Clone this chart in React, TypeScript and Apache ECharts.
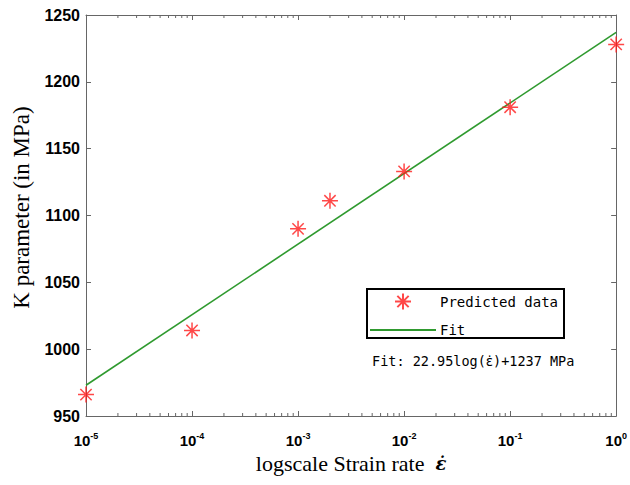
import React, { useEffect, useRef } from "react";
import * as echarts from "echarts";

// ---- data ----
const strainRates = [1e-5, 1e-4, 1e-3, 2e-3, 1e-2, 1e-1, 1];
const kValues = [966, 1014, 1090, 1111, 1133, 1181, 1228];
const fitRates = [1e-5, 1];
const fitK = [973, 1237];
const yMin = 950;
const yMax = 1250;
const yStep = 50;
const xMin = 1e-5;
const xMax = 1;
const decades = [1e-5, 1e-4, 1e-3, 1e-2, 1e-1];
const minorMultipliers = [2, 3, 4, 5, 6, 7, 8, 9];
const seriesNames = ["Predicted data", "Fit"];
const annotationPre = "Fit: 22.95log(";
const annotationEps = "\u03B5\u0307";
const annotationPost = ")+1237 MPa";
const xTitle = "logscale Strain rate  ";
const epsDot = "\u03B5\u0307";
const yTitle = "K parameter (in MPa)";

const STAR = "path://M0,-10L0,10M-10,0L10,0M-7.07,-7.07L7.07,7.07M-7.07,7.07L7.07,-7.07";
const RED = "#ff1a1a";
const GREEN = "#2f9a2f";
const AXIS = "#666666";

export default function App() {
  const ref = useRef<HTMLDivElement>(null);
  useEffect(() => {
    if (!ref.current) return;
    const chart = echarts.init(ref.current, undefined, { renderer: "svg" });
    const minorTicks: number[][] = [];
    decades.forEach((d) => minorMultipliers.forEach((m) => minorTicks.push([d * m, yMin])));

    const tickLabelFont = { fontFamily: "Liberation Sans, Arial", fontWeight: "bold" as const, color: "#000" };
    const tick = { show: true, inside: true, length: 5, lineStyle: { color: AXIS, width: 1 } };

    chart.setOption({
      animation: false,
      backgroundColor: "#fff",
      grid: { left: 86, top: 15, width: 532, height: 401 },
      xAxis: [
        {
          type: "log",
          logBase: 10,
          min: xMin,
          max: xMax,
          splitNumber: 5,
          position: "bottom",
          name: `${xTitle}{e|${epsDot}}`,
          nameLocation: "middle",
          nameGap: 31,
          nameTextStyle: {
            fontFamily: "Liberation Serif, Times New Roman",
            fontSize: 22,
            color: "#000",
            rich: {
              e: { fontFamily: "DejaVu Serif", fontStyle: "italic", fontWeight: "bold", fontSize: 18, color: "#000" },
            },
          },
          axisLine: { lineStyle: { color: AXIS, width: 1 } },
          axisTick: tick,
          splitLine: { show: false },
          axisLabel: {
            margin: 15,
            formatter: (v: number) => `{b|10}{s|${Math.round(Math.log10(v))}}`,
            rich: {
              b: { ...tickLabelFont, fontSize: 15 },
              s: { ...tickLabelFont, fontSize: 9, padding: [0, 0, 10, 0] },
            },
          },
        },
        {
          type: "log",
          logBase: 10,
          min: xMin,
          max: xMax,
          splitNumber: 5,
          position: "top",
          axisLine: { lineStyle: { color: AXIS, width: 1 } },
          axisTick: tick,
          axisLabel: { show: false },
          splitLine: { show: false },
        },
      ],
      yAxis: [
        {
          type: "value",
          min: yMin,
          max: yMax,
          interval: yStep,
          position: "left",
          name: yTitle,
          nameLocation: "middle",
          nameGap: 53,
          nameTextStyle: {
            fontFamily: "Liberation Serif, Times New Roman",
            fontSize: 23,
            color: "#000",
            padding: [0, 0, 0, 16],
          },
          axisLine: { show: true, lineStyle: { color: AXIS, width: 1 } },
          axisTick: tick,
          splitLine: { show: false },
          axisLabel: { ...tickLabelFont, fontSize: 16, margin: 6, formatter: (v: number) => String(v) },
        },
        {
          type: "value",
          min: yMin,
          max: yMax,
          interval: yStep,
          position: "right",
          axisLine: { show: true, lineStyle: { color: AXIS, width: 1 } },
          axisTick: tick,
          axisLabel: { show: false },
          splitLine: { show: false },
        },
      ],
      legend: {
        data: [
          { name: seriesNames[0], icon: STAR },
          { name: seriesNames[1], itemStyle: { opacity: 0 } },
        ],
        orient: "vertical",
        left: 367,
        top: 289,
        itemWidth: 66,
        itemHeight: 16,
        itemGap: 10,
        padding: [2, 6, 0, 2],
        borderColor: "#000",
        borderWidth: 2,
        backgroundColor: "#fff",
        selectedMode: false,
        textStyle: { fontFamily: "DejaVu Sans Mono", fontSize: 14, lineHeight: 16, color: "#000", padding: [0, 0, 0, -1] },
      },
      graphic: [
        {
          type: "text",
          left: 372,
          top: 354,
          style: {
            text: `{m|${annotationPre}}{e|${annotationEps}}{m|${annotationPost}}`,
            rich: {
              m: { fontFamily: "DejaVu Sans Mono", fontSize: 13.5, fill: "#000" },
              e: { fontFamily: "DejaVu Sans", fontSize: 13.5, fill: "#000" },
            },
          },
        },
      ],
      series: [
        {
          name: "minorTicks",
          type: "custom",
          coordinateSystem: "cartesian2d",
          xAxisIndex: 0,
          yAxisIndex: 0,
          silent: true,
          data: minorTicks,
          renderItem: (_params: any, api: any) => {
            const x = api.value(0);
            const b = api.coord([x, yMin]);
            const t = api.coord([x, yMax]);
            const st = { stroke: AXIS, lineWidth: 1 };
            return {
              type: "group",
              children: [
                { type: "line", shape: { x1: b[0], y1: b[1], x2: b[0], y2: b[1] - 3 }, style: st },
                { type: "line", shape: { x1: t[0], y1: t[1], x2: t[0], y2: t[1] + 3 }, style: st },
              ],
            };
          },
          z: 1,
        },
        {
          name: seriesNames[1],
          type: "line",
          data: fitRates.map((x, i) => [x, fitK[i]]),
          symbol: "none",
          lineStyle: { color: GREEN, width: 1.6 },
          itemStyle: { color: GREEN },
          z: 2,
        },
        {
          name: seriesNames[0],
          type: "scatter",
          data: strainRates.map((x, i) => [x, kValues[i]]),
          symbol: STAR,
          symbolSize: 16,
          itemStyle: { color: "none", borderColor: RED, borderWidth: 1.5 },
          clip: false,
          z: 3,
        },
      ],
    });
    return () => chart.dispose();
  }, []);
  return <div ref={ref} style={{ position: "absolute", left: 0, top: 0, width: 630, height: 485 }} />;
}
